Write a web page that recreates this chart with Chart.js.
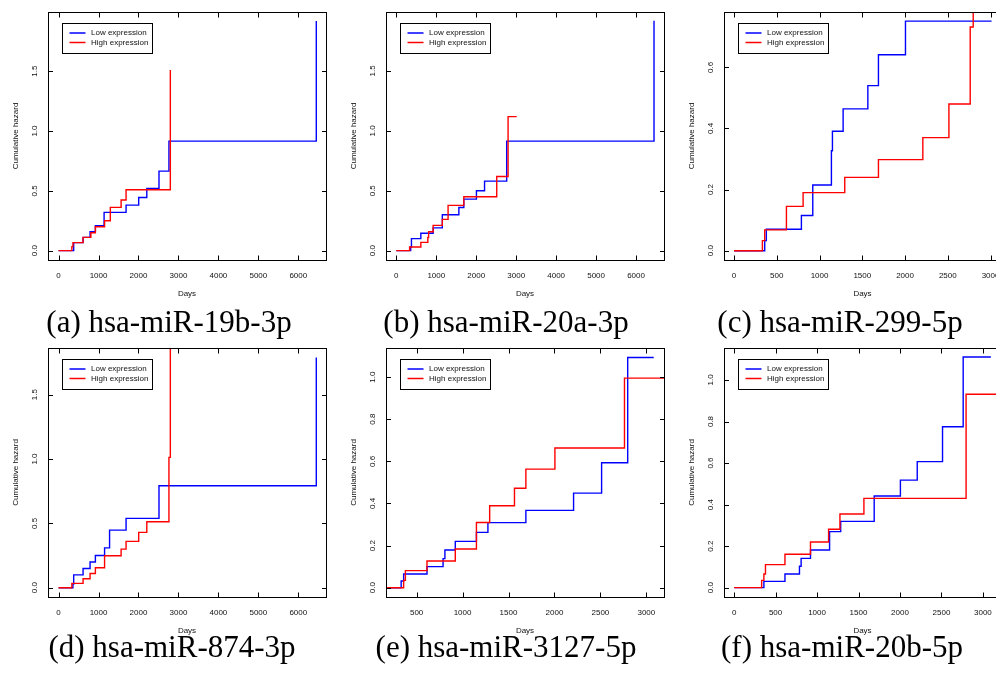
<!DOCTYPE html>
<html>
<head>
<meta charset="utf-8">
<script src="https://cdn.jsdelivr.net/npm/chart.js@4/dist/chart.umd.min.js"></script>
<style>
html,body{margin:0;padding:0;background:#fff;}
body{width:996px;height:675px;overflow:hidden;position:relative;}
canvas{position:absolute;}
.cap{position:absolute;font-family:"Liberation Serif","Times New Roman",serif;font-size:31px;line-height:31px;white-space:nowrap;transform:translateX(-50%);color:#000;}
</style>
</head>
<body>
<script>
// ---------- data ----------
const legendLabels = ['Low expression', 'High expression'];
const seriesColors = ['#0000ff', '#ff0000'];
const captions = ['(a) hsa-miR-19b-3p', '(b) hsa-miR-20a-3p', '(c) hsa-miR-299-5p',
                  '(d) hsa-miR-874-3p', '(e) hsa-miR-3127-5p', '(f) hsa-miR-20b-5p'];
const xAxisTitle = 'Days';
const yAxisTitle = 'Cumulative hazard';

// tick labels
const xTicksLong  = [0, 1000, 2000, 3000, 4000, 5000, 6000];
const xTicksShort = [0, 500, 1000, 1500, 2000, 2500, 3000];
const xTicksE     = [500, 1000, 1500, 2000, 2500, 3000];
const yTicksHalf  = [0, 0.5, 1.0, 1.5];
const yTicksC     = [0, 0.2, 0.4, 0.6];
const yTicksFifth = [0, 0.2, 0.4, 0.6, 0.8, 1.0];

// (a) hsa-miR-19b-3p
const aLowDays  = [0, 378, 613, 788, 921, 1139, 1689, 2005, 2208, 2513, 2762, 6450];
const aLowHaz   = [0, 0.067, 0.111, 0.159, 0.209, 0.320, 0.381, 0.445, 0.520, 0.665, 0.916, 1.920];
const aHighDays = [0, 332, 359, 613, 808, 921, 1151, 1295, 1565, 1689, 2797];
const aHighHaz  = [0, 0.034, 0.067, 0.111, 0.150, 0.200, 0.250, 0.362, 0.423, 0.509, 1.511];

// (b) hsa-miR-20a-3p
const bLowDays  = [0, 359, 378, 613, 921, 1151, 1565, 1689, 2005, 2208, 2762, 6450];
const bLowHaz   = [0, 0.030, 0.100, 0.145, 0.190, 0.300, 0.360, 0.430, 0.500, 0.580, 0.914, 1.920];
const bHighDays = [0, 332, 613, 788, 808, 921, 1151, 1295, 1689, 2513, 2797, 3013];
const bHighHaz  = [0, 0.030, 0.069, 0.110, 0.158, 0.211, 0.261, 0.378, 0.450, 0.619, 1.119, 1.119];

// (c) hsa-miR-299-5p
const cLowDays  = [0, 359, 378, 788, 921, 1139, 1151, 1276, 1565, 1689, 2005, 3012];
const cLowHaz   = [0, 0.033, 0.070, 0.115, 0.215, 0.327, 0.391, 0.464, 0.540, 0.641, 0.751, 0.751];
const cHighDays = [0, 332, 359, 613, 808, 1295, 1689, 2208, 2513, 2762, 2797];
const cHighHaz  = [0, 0.033, 0.068, 0.145, 0.190, 0.240, 0.298, 0.370, 0.480, 0.732, 1.200];

// (d) hsa-miR-874-3p
const dLowDays  = [0, 359, 378, 613, 788, 921, 1151, 1276, 1689, 2513, 6450];
const dLowHaz   = [0, 0.028, 0.100, 0.150, 0.200, 0.250, 0.310, 0.448, 0.539, 0.793, 1.790];
const dHighDays = [0, 332, 613, 788, 921, 1151, 1565, 1689, 2005, 2208, 2762, 2797];
const dHighHaz  = [0, 0.034, 0.070, 0.111, 0.155, 0.249, 0.300, 0.360, 0.430, 0.513, 1.013, 3.000];

// (e) hsa-miR-3127-5p
const eLowDays  = [0, 332, 359, 613, 788, 808, 921, 1151, 1276, 1689, 2208, 2513, 2797, 3080];
const eLowHaz   = [0, 0.032, 0.065, 0.100, 0.138, 0.179, 0.220, 0.263, 0.309, 0.367, 0.449, 0.593, 1.093, 1.093];
const eHighDays = [0, 359, 378, 613, 921, 1151, 1295, 1565, 1689, 2005, 2762, 3300];
const eHighHaz  = [0, 0.035, 0.081, 0.127, 0.184, 0.310, 0.389, 0.472, 0.563, 0.663, 0.995, 0.995];

// (f) hsa-miR-20b-5p
const fLowDays  = [0, 359, 613, 788, 808, 921, 1151, 1285, 1689, 2005, 2208, 2513, 2762, 3096];
const fLowHaz   = [0, 0.030, 0.066, 0.103, 0.141, 0.181, 0.270, 0.319, 0.441, 0.518, 0.607, 0.775, 1.111, 1.111];
const fHighDays = [0, 332, 359, 378, 613, 921, 1139, 1276, 1565, 2797, 3300];
const fHighHaz  = [0, 0.035, 0.066, 0.111, 0.161, 0.220, 0.281, 0.355, 0.430, 0.931, 0.931];

// ---------- layout (positions & ranges) ----------
const FONT = '"Liberation Sans", Arial, Helvetica, sans-serif';
const panels = [
  {cap:0, low:[aLowDays,aLowHaz], high:[aHighDays,aHighHaz], xt:xTicksLong,  yt:yTicksHalf,  xr:[-265,6693], yr:[-0.078,1.995], L:48,  R:326,  T:12,  B:260, cx:0,   cy:0,   capX:169},
  {cap:1, low:[bLowDays,bLowHaz], high:[bHighDays,bHighHaz], xt:xTicksLong,  yt:yTicksHalf,  xr:[-259,6700], yr:[-0.078,1.992], L:386, R:664,  T:12,  B:260, cx:340, cy:0,   capX:506},
  {cap:2, low:[cLowDays,cLowHaz], high:[cHighDays,cHighHaz], xt:xTicksShort, yt:yTicksC,     xr:[-117,3122], yr:[-0.0305,0.781], L:724, R:1001, T:12,  B:260, cx:680, cy:0,   capX:840},
  {cap:3, low:[dLowDays,dLowHaz], high:[dHighDays,dHighHaz], xt:xTicksLong,  yt:yTicksHalf,  xr:[-265,6693], yr:[-0.072,1.863], L:48,  R:326,  T:348, B:597, cx:0,   cy:335, capX:172},
  {cap:4, low:[eLowDays,eLowHaz], high:[eHighDays,eHighHaz], xt:xTicksE,     yt:yTicksFifth, xr:[167,3192],  yr:[-0.044,1.138], L:386, R:664,  T:348, B:597, cx:340, cy:335, capX:506},
  {cap:5, low:[fLowDays,fLowHaz], high:[fHighDays,fHighHaz], xt:xTicksShort, yt:yTicksFifth, xr:[-122,3218], yr:[-0.045,1.154], L:724, R:1001, T:348, B:597, cx:680, cy:335, capX:842}
];
const CW = 340, CH = 305;
const capTops = [306, 631];

Chart.defaults.font.family = FONT;

const toXY = (xs, ys) => xs.map((v, i) => ({x: v, y: ys[i]}));

const framePlugin = {
  id: 'frame',
  afterDatasetsDraw(chart) {
    const {ctx, chartArea: a, scales} = chart;
    const xs = scales.x, ys = scales.y;
    ctx.save();
    ctx.strokeStyle = '#000';
    ctx.lineWidth = 1;
    const l = Math.round(a.left) + 0.5, r = Math.round(a.right) + 0.5;
    const t = Math.round(a.top) + 0.5, b = Math.round(a.bottom) + 0.5;
    ctx.strokeRect(l, t, r - l, b - t);
    ctx.beginPath();
    xs.ticks.forEach(tk => {
      const px = Math.round(xs.getPixelForValue(tk.value)) + 0.5;
      ctx.moveTo(px, b); ctx.lineTo(px, b - 5);
      ctx.moveTo(px, t); ctx.lineTo(px, t + 5);
    });
    ys.ticks.forEach(tk => {
      const py = Math.round(ys.getPixelForValue(tk.value)) + 0.5;
      ctx.moveTo(l, py); ctx.lineTo(l + 4.5, py);
      ctx.moveTo(r, py); ctx.lineTo(r - 4.5, py);
    });
    ctx.stroke();
    // legend
    const lx = Math.round(a.left) + 14.5, ly = Math.round(a.top) + 11.5;
    ctx.fillStyle = '#fff';
    ctx.fillRect(lx, ly, 90, 30);
    ctx.strokeStyle = '#000';
    ctx.lineWidth = 1;
    ctx.strokeRect(lx, ly, 90, 30);
    ctx.font = '8px ' + FONT;
    ctx.textBaseline = 'middle';
    ctx.textAlign = 'left';
    [0, 1].forEach(k => {
      const yy = ly + 9.5 + k * 9.5;
      ctx.strokeStyle = seriesColors[k];
      ctx.lineWidth = 1.5;
      ctx.beginPath(); ctx.moveTo(lx + 7, yy); ctx.lineTo(lx + 23, yy); ctx.stroke();
      ctx.fillStyle = '#111';
      ctx.fillText(legendLabels[k], lx + 28.5, yy);
    });
    ctx.restore();
  }
};

panels.forEach(p => {
  const cv = document.createElement('canvas');
  cv.width = CW; cv.height = CH;
  cv.style.left = p.cx + 'px'; cv.style.top = p.cy + 'px';
  cv.style.width = CW + 'px'; cv.style.height = CH + 'px';
  document.body.appendChild(cv);

  const xTitlePad = p.cy + CH - 4.8 - (p.B + 34);
  const yTitlePad = (p.L - 32.5) - p.cx - 4.8;

  new Chart(cv, {
    type: 'line',
    data: {
      datasets: [
        {label: legendLabels[0], data: toXY(p.low[0], p.low[1]), borderColor: seriesColors[0], borderWidth: 1.4,
         pointRadius: 0, stepped: true, fill: false, order: 1},
        {label: legendLabels[1], data: toXY(p.high[0], p.high[1]), borderColor: seriesColors[1], borderWidth: 1.4,
         pointRadius: 0, stepped: true, fill: false, order: 0}
      ]
    },
    options: {
      responsive: false,
      animation: false,
      devicePixelRatio: 1,
      events: [],
      layout: {padding: {left: 0, top: p.T - p.cy, right: p.cx + CW - p.R, bottom: 0}},
      plugins: {legend: {display: false}, tooltip: {enabled: false}},
      scales: {
        x: {
          type: 'linear', min: p.xr[0], max: p.xr[1],
          grid: {display: false}, border: {display: false},
          afterBuildTicks: s => { s.ticks = p.xt.map(v => ({value: v})); },
          afterFit: s => { s.height = p.cy + CH - p.B; s.paddingLeft = 0; s.paddingRight = 0; },
          ticks: {autoSkip: false, minRotation: 0, maxRotation: 0, padding: 3,
                  font: {size: 8, family: FONT}, color: '#111', callback: v => String(v)},
          title: {display: true, text: xAxisTitle, color: '#111', font: {size: 8, family: FONT},
                  padding: {top: 0, bottom: xTitlePad}}
        },
        y: {
          type: 'linear', min: p.yr[0], max: p.yr[1],
          grid: {display: false}, border: {display: false},
          afterBuildTicks: s => { s.ticks = p.yt.map(v => ({value: v})); },
          afterFit: s => { s.width = p.L - p.cx; s.paddingTop = 0; s.paddingBottom = 0; },
          ticks: {autoSkip: false, minRotation: 90, maxRotation: 90, crossAlign: 'center', padding: 0,
                  font: {size: 8, family: FONT}, color: '#111', callback: v => Number(v).toFixed(1)},
          title: {display: true, text: yAxisTitle, color: '#111', font: {size: 8, family: FONT},
                  padding: {top: yTitlePad, bottom: 0}}
        }
      }
    },
    plugins: [framePlugin]
  });

  const cap = document.createElement('div');
  cap.className = 'cap';
  cap.textContent = captions[p.cap];
  cap.style.left = p.capX + 'px';
  cap.style.top = capTops[p.cy > 0 ? 1 : 0] + 'px';
  document.body.appendChild(cap);
});
</script>
</body>
</html>
